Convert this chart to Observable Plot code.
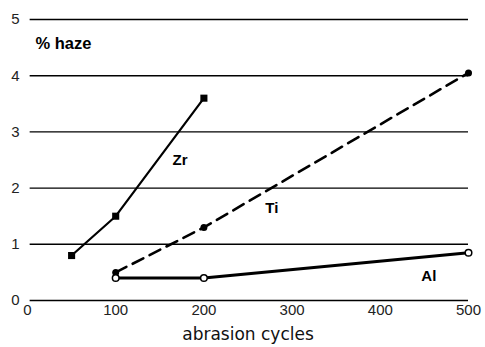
<!DOCTYPE html>
<html><head><meta charset="utf-8">
<script src="https://cdn.jsdelivr.net/npm/d3@7"></script>
<script src="https://cdn.jsdelivr.net/npm/@observablehq/plot@0.6"></script>
<style>body{margin:0;background:#fff}svg{display:block}</style>
</head><body><div id="chart"></div>
<script>
const zrCycles = [50, 100, 200];
const zrHaze = [0.8, 1.5, 3.6];
const tiCycles = [100, 200, 500];
const tiHaze = [0.5, 1.3, 4.05];
const alCycles = [100, 200, 500];
const alHaze = [0.4, 0.4, 0.85];
const yTicks = [0, 1, 2, 3, 4, 5];
const xTicks = [0, 100, 200, 300, 400, 500];
const seriesLabels = [
  {name: "Zr", x: 173, y: 2.49},
  {name: "Ti", x: 277, y: 1.65},
  {name: "Al", x: 455, y: 0.43}
];

const zr = zrCycles.map((c, i) => ({x: c, y: zrHaze[i]}));
const ti = tiCycles.map((c, i) => ({x: c, y: tiHaze[i]}));
const al = alCycles.map((c, i) => ({x: c, y: alHaze[i]}));

const chart = Plot.plot({
  width: 485, height: 347,
  marginLeft: 27, marginRight: 17, marginTop: 19, marginBottom: 47,
  style: {fontFamily: "Liberation Sans, Arial, sans-serif", background: "#fff", color: "#000"},
  x: {domain: [0, 500], ticks: xTicks},
  y: {domain: [0, 5], ticks: yTicks},
  marks: [
    Plot.ruleY(yTicks, {x1: 3, x2: 500, stroke: "#000", strokeWidth: 1.4}),
    Plot.axisX(xTicks, {tickSize: 0, tickPadding: 4, fontSize: 15, fill: "#222", label: null, tickFormat: "d"}),
    Plot.text(["abrasion cycles"], {frameAnchor: "bottom", dy: 34, lineAnchor: "middle", fontSize: 17, fill: "#111", fontFamily: "DejaVu Sans, sans-serif"}),
    Plot.axisY(yTicks, {tickSize: 0, tickPadding: 8, fontSize: 15, fill: "#222", label: null, tickFormat: "d"}),
    Plot.text(["% haze"], {x: 9, y: 4.57, textAnchor: "start", fontSize: 16.5, fontWeight: "bold"}),
    Plot.line(zr, {x: "x", y: "y", stroke: "#000", strokeWidth: 2.2}),
    Plot.line(ti, {x: "x", y: "y", stroke: "#000", strokeWidth: 2.6, strokeDasharray: "12,7"}),
    Plot.line(al, {x: "x", y: "y", stroke: "#000", strokeWidth: 3.2}),
    Plot.dot(zr, {x: "x", y: "y", symbol: "square", r: 4, fill: "#000"}),
    Plot.dot(ti, {x: "x", y: "y", r: 3.5, fill: "#000"}),
    Plot.dot(al, {x: "x", y: "y", r: 3.3, fill: "#fff", stroke: "#000", strokeWidth: 1.5}),
    Plot.text(seriesLabels, {x: "x", y: "y", text: "name", fontSize: 15, fontWeight: "bold"})
  ]
});
document.getElementById("chart").append(chart);
</script></body></html>
